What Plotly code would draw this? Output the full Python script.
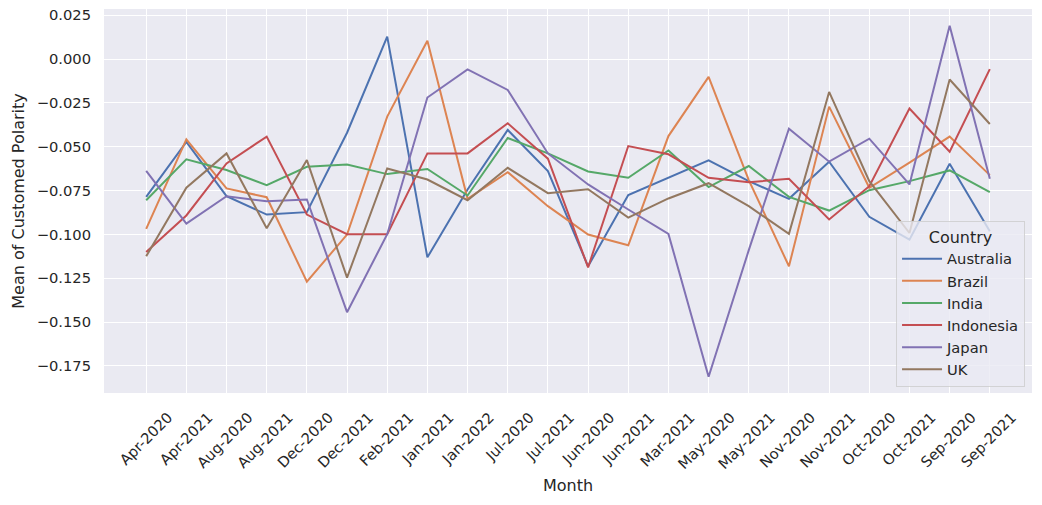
import plotly.graph_objects as go

months = ["Apr-2020", "Apr-2021", "Aug-2020", "Aug-2021", "Dec-2020", "Dec-2021",
          "Feb-2021", "Jan-2021", "Jan-2022", "Jul-2020", "Jul-2021", "Jun-2020",
          "Jun-2021", "Mar-2021", "May-2020", "May-2021", "Nov-2020", "Nov-2021",
          "Oct-2020", "Oct-2021", "Sep-2020", "Sep-2021"]

australia = [-0.0786, -0.0473, -0.0782, -0.0887, -0.0873, -0.0420, 0.0128, -0.1131,
             -0.0744, -0.0404, -0.0639, -0.1182, -0.0776, -0.0677, -0.0578, -0.0696,
             -0.0797, -0.0585, -0.0900, -0.1030, -0.0597, -0.0982]
brazil = [-0.0969, -0.0458, -0.0738, -0.0788, -0.1270, -0.1001, -0.0328, 0.0105,
          -0.0797, -0.0645, -0.0839, -0.1001, -0.1062, -0.0439, -0.0101, -0.0690,
          -0.1182, -0.0271, -0.0734, -0.0591, -0.0442, -0.0662]
india = [-0.0805, -0.0572, -0.0633, -0.0719, -0.0614, -0.0601, -0.0656, -0.0627,
         -0.0778, -0.0450, -0.0538, -0.0641, -0.0677, -0.0521, -0.0730, -0.0610,
         -0.0786, -0.0864, -0.0748, -0.0696, -0.0635, -0.0759]
indonesia = [-0.1100, -0.0892, -0.0595, -0.0442, -0.0887, -0.0999, -0.0999, -0.0538,
             -0.0538, -0.0366, -0.0568, -0.1188, -0.0496, -0.0543, -0.0677, -0.0702,
             -0.0683, -0.0915, -0.0725, -0.0282, -0.0528, -0.0057]
japan = [-0.0637, -0.0938, -0.0782, -0.0811, -0.0801, -0.1444, -0.0999, -0.0219,
         -0.0059, -0.0176, -0.0538, -0.0715, -0.0858, -0.0997, -0.1812, -0.1090,
         -0.0397, -0.0585, -0.0454, -0.0715, 0.0191, -0.0683]
uk = [-0.1125, -0.0734, -0.0538, -0.0965, -0.0576, -0.1247, -0.0624, -0.0687,
      -0.0805, -0.0620, -0.0765, -0.0742, -0.0904, -0.0795, -0.0708, -0.0839,
      -0.0997, -0.0187, -0.0696, -0.0992, -0.0116, -0.0370]

countries = ["Australia", "Brazil", "India", "Indonesia", "Japan", "UK"]
series = [australia, brazil, india, indonesia, japan, uk]
colors = ["#4C72B0", "#DD8452", "#55A868", "#C44E52", "#8172B3", "#937860"]

y_ticks = [0.025, 0.0, -0.025, -0.05, -0.075, -0.1, -0.125, -0.15, -0.175]
y_ticktext = [("\u2212" if v < 0 else "") + f"{abs(v):.3f}" for v in y_ticks]

fig = go.Figure()
for name, vals, col in zip(countries, series, colors):
    fig.add_trace(go.Scatter(x=months, y=vals, mode="lines", name=name,
                             line=dict(color=col, width=2)))

font_family = "DejaVu Sans"
text_col = "#262626"

fig.update_layout(
    width=1042, height=505,
    margin=dict(l=104, r=10, t=9, b=112),
    paper_bgcolor="white",
    plot_bgcolor="#EAEAF2",
    font=dict(family=font_family, size=14.7, color=text_col),
    legend=dict(
        title=dict(text="Country", font=dict(size=16, color=text_col), side="top center"),
        font=dict(size=14.7, color=text_col),
        x=0.9925, y=0.016, xanchor="right", yanchor="bottom",
        bgcolor="rgba(234,234,242,0.8)",
        bordercolor="rgba(204,204,204,0.8)", borderwidth=1,
        tracegroupgap=0,
        itemwidth=40,
    ),
    showlegend=True,
)

fig.update_xaxes(
    type="category",
    categoryorder="array", categoryarray=months,
    range=[-1.05, 22.05],
    automargin=False,
    showgrid=True, gridcolor="white", gridwidth=1.3,
    zeroline=False, showline=False,
    tickangle=-45,
    tickfont=dict(size=14.7, color=text_col),
    ticklabelshift=22, ticklabelstandoff=12,
    title=dict(text="Month", font=dict(size=16, color=text_col), standoff=8),
)
fig.update_yaxes(
    range=[-0.1905, 0.0286],
    automargin=False,
    tickmode="array", tickvals=y_ticks, ticktext=y_ticktext,
    showgrid=True, gridcolor="white", gridwidth=1.3,
    zeroline=False, showline=False,
    tickfont=dict(size=14.7, color=text_col),
    ticklabelstandoff=12,
    title=dict(text="Mean of Customed Polarity", font=dict(size=16, color=text_col), standoff=8),
)

# remove the page's default 8px body margin so the figure fills the window exactly
fig.write_html("out.html",
               config={"displayModeBar": False},
               post_script="document.body.style.margin='0';document.body.style.overflow='hidden';")
